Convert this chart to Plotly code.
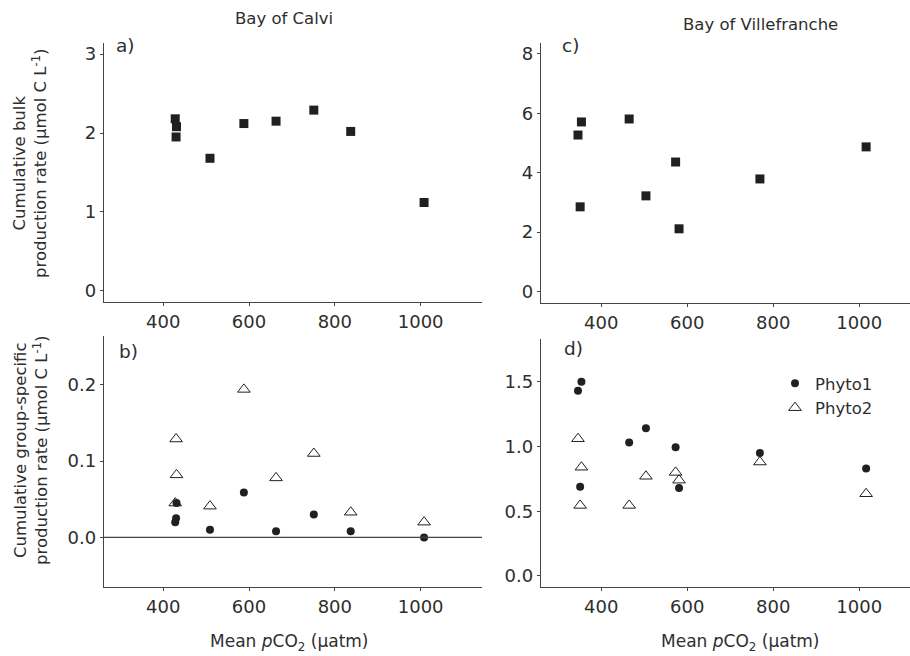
import plotly.graph_objects as go

# ---------------- data ----------------
calvi_pco2 = [428, 431, 430, 509, 588, 663, 751, 837, 1008]
calvi_bulk = [2.18, 2.08, 1.95, 1.68, 2.12, 2.15, 2.29, 2.02, 1.12]
calvi_phyto1 = [0.020, 0.045, 0.025, 0.010, 0.059, 0.008, 0.030, 0.008, 0.000]
calvi_phyto2 = [0.045, 0.082, 0.129, 0.041, 0.194, 0.078, 0.110, 0.033, 0.020]

ville_pco2 = [346, 354, 351, 465, 504, 573, 581, 769, 1016]
ville_bulk = [5.27, 5.71, 2.85, 5.81, 3.22, 4.36, 2.11, 3.79, 4.87]
ville_phyto1 = [1.43, 1.50, 0.69, 1.03, 1.14, 0.995, 0.68, 0.95, 0.83]
ville_phyto2 = [1.06, 0.84, 0.545, 0.545, 0.77, 0.80, 0.74, 0.88, 0.635]

x_ticks = [400, 600, 800, 1000]
site_titles = ["Bay of Calvi", "Bay of Villefranche"]
panel_labels = ["a)", "c)", "b)", "d)"]
series_names = ["Phyto1", "Phyto2"]

# ---------------- styling ----------------
W, H = 910, 656
FONT = "DejaVu Sans"
INK = "#231f20"
TXT = "#2e2e2e"
AX = "#444444"
TICK_SIZE = 18

def px_x(p):
    return p / W

def px_y(p):
    return 1 - p / H

fig = go.Figure()

sq = dict(symbol="square", size=9, color=INK)
dot = dict(symbol="circle", size=8, color=INK)
tri = dict(symbol="triangle-up-open", size=11, color=INK, line=dict(width=1, color=INK))

# a) Calvi bulk
fig.add_trace(go.Scatter(x=calvi_pco2, y=calvi_bulk, mode="markers", marker=sq,
                         xaxis="x", yaxis="y", showlegend=False))
# c) Villefranche bulk
fig.add_trace(go.Scatter(x=ville_pco2, y=ville_bulk, mode="markers", marker=sq,
                         xaxis="x2", yaxis="y2", showlegend=False))
# b) Calvi groups
fig.add_trace(go.Scatter(x=calvi_pco2, y=calvi_phyto2, mode="markers", marker=tri,
                         xaxis="x3", yaxis="y3", showlegend=False))
fig.add_trace(go.Scatter(x=calvi_pco2, y=calvi_phyto1, mode="markers", marker=dot,
                         xaxis="x3", yaxis="y3", showlegend=False))
# d) Villefranche groups
fig.add_trace(go.Scatter(x=ville_pco2, y=ville_phyto1, mode="markers", marker=dot,
                         name=series_names[0], xaxis="x4", yaxis="y4", showlegend=True))
fig.add_trace(go.Scatter(x=ville_pco2, y=ville_phyto2, mode="markers", marker=tri,
                         name=series_names[1], xaxis="x4", yaxis="y4", showlegend=True))

def xax(dom, rng, anchor):
    return dict(domain=dom, range=rng, anchor=anchor, tickvals=x_ticks,
                showline=True, linecolor=AX, linewidth=1.3, ticks="outside",
                ticklen=3, tickcolor=AX, tickwidth=1, showgrid=False, zeroline=False,
                tickfont=dict(family=FONT, size=TICK_SIZE, color=TXT))

def yax(dom, rng, anchor, tickvals, fmt=None):
    d = dict(domain=dom, range=rng, anchor=anchor, tickvals=tickvals,
             showline=True, linecolor=AX, linewidth=1.3, ticks="outside",
             ticklen=3, tickcolor=AX, tickwidth=1, showgrid=False, zeroline=False,
             tickfont=dict(family=FONT, size=TICK_SIZE, color=TXT))
    if fmt:
        d["tickformat"] = fmt
    return d

xa_dom = [px_x(104), px_x(482)]
xc_dom = [px_x(541), px_x(910)]
ya_dom = [px_y(302), px_y(43)]
yc_dom = [px_y(303), px_y(43)]
yb_dom = [px_y(587), px_y(336)]
yd_dom = [px_y(587), px_y(339)]

fig.update_layout(
    width=W, height=H,
    margin=dict(l=0, r=0, t=0, b=0),
    paper_bgcolor="white", plot_bgcolor="white",
    font=dict(family=FONT, color=TXT, size=16),
    xaxis=xax(xa_dom, [262, 1143], "y"),
    yaxis=yax(ya_dom, [-0.14, 3.14], "x", [0, 1, 2, 3]),
    xaxis2=xax(xc_dom, [260, 1118], "y2"),
    yaxis2=yax(yc_dom, [-0.39, 8.37], "x2", [0, 2, 4, 6, 8]),
    xaxis3=xax(xa_dom, [262, 1143], "y3"),
    yaxis3=yax(yb_dom, [-0.065, 0.264], "x3", [0, 0.1, 0.2], ".1f"),
    xaxis4=xax(xc_dom, [260, 1118], "y4"),
    yaxis4=yax(yd_dom, [-0.085, 1.83], "x4", [0, 0.5, 1.0, 1.5], ".1f"),
    legend=dict(x=px_x(775), y=px_y(366), xanchor="left", yanchor="top",
                bgcolor="rgba(0,0,0,0)", font=dict(family=FONT, size=16.5, color=TXT),
                itemwidth=30, tracegroupgap=0),
    showlegend=True,
)

# zero line in panel b
fig.add_shape(type="line", xref="x3 domain", yref="y3", x0=0, x1=1, y0=0, y1=0,
              line=dict(color=AX, width=1.2))

ann = []
# site titles
ann.append(dict(x=px_x(284), y=px_y(18), text=site_titles[0]))
ann.append(dict(x=px_x(760), y=px_y(24), text=site_titles[1]))
for a in ann:
    a.update(xref="paper", yref="paper", showarrow=False, xanchor="center", yanchor="middle",
             font=dict(family=FONT, size=16.5, color=TXT))

# panel labels
for lab, (px, py) in zip(panel_labels, [(125, 45), (570, 45), (128, 351), (573, 348)]):
    ann.append(dict(x=px_x(px), y=px_y(py), text=lab, xref="paper", yref="paper",
                    showarrow=False, xanchor="center", yanchor="middle",
                    font=dict(family=FONT, size=18.5, color=TXT)))

# y-axis titles
ann.append(dict(x=px_x(30), y=px_y(164),
                text="Cumulative bulk<br>production rate (µmol C L<sup>-1</sup>)",
                textangle=-90, xref="paper", yref="paper", showarrow=False,
                xanchor="center", yanchor="middle",
                font=dict(family=FONT, size=16.5, color=TXT)))
ann.append(dict(x=px_x(31), y=px_y(451),
                text="Cumulative group-specific<br>production rate (µmol C L<sup>-1</sup>)",
                textangle=-90, xref="paper", yref="paper", showarrow=False,
                xanchor="center", yanchor="middle",
                font=dict(family=FONT, size=16.5, color=TXT)))
# x-axis titles
for px in (289, 740):
    ann.append(dict(x=px_x(px), y=px_y(642),
                    text="Mean <i>p</i>CO<sub>2</sub> (µatm)",
                    xref="paper", yref="paper", showarrow=False,
                    xanchor="center", yanchor="middle",
                    font=dict(family=FONT, size=17, color=TXT)))

fig.update_layout(annotations=ann)

fig.write_html("out.html")
